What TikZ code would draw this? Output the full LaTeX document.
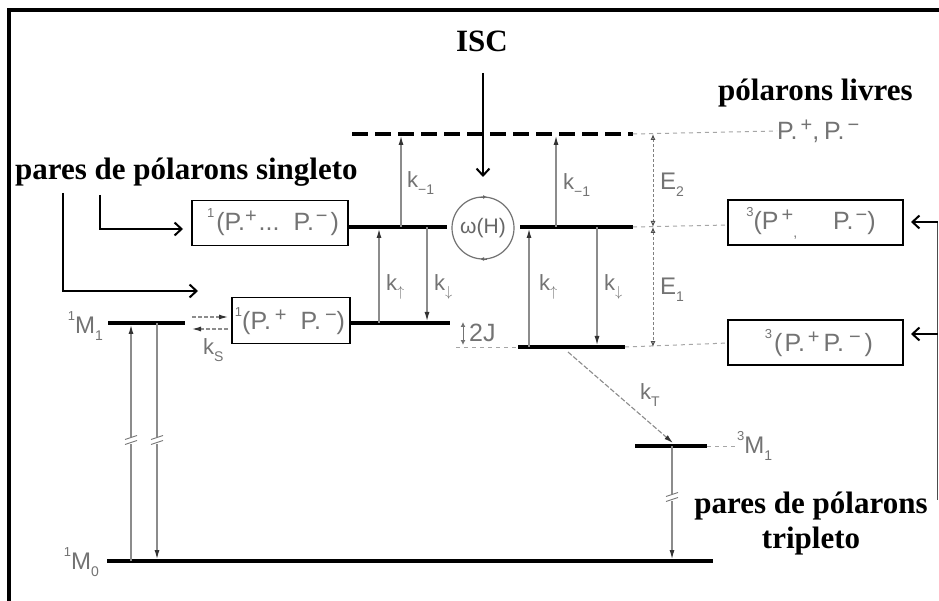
\documentclass[tikz,border=0pt]{standalone}
\usepackage{fontspec}
\setmainfont{Liberation Serif}
\newfontfamily\scanfont{Liberation Sans}
\usetikzlibrary{arrows.meta}
\newcommand\upc[1]{\raisebox{0.32em}{\fontsize{20}{20}\selectfont #1}}
\newcommand\upn[1]{\raisebox{0.55em}{\fontsize{13}{13}\selectfont #1}}
\newcommand\dnn[1]{\raisebox{-0.3em}{\fontsize{14}{14}\selectfont #1}}
\begin{document}
\begin{tikzpicture}[x=1pt,y=-1pt,
  lvl/.style={line width=4.5pt},
  bold/.style={font=\fontsize{31}{35}\selectfont\bfseries, inner sep=0pt},
  lab/.style={text=black!55, font=\scanfont\fontsize{22}{24}\selectfont, inner sep=0pt},
  boxtxt/.style={text=black!55, font=\scanfont\fontsize{25}{27}\selectfont},
  pairbox/.style={draw=black, line width=1.8pt, inner sep=0pt},
  annot/.style={draw=black, line width=2.3pt, -{Straight Barb[length=7pt,width=13pt,line width=2pt]}},
  thinarr/.style={draw=black!45, line width=1.1pt, -{Latex[length=9pt,width=5pt,color=black!80,fill=black!80]}},
  dblarr/.style={draw=black!50, line width=1pt, dash pattern=on 3pt off 2pt, {Latex[open,length=6pt,width=5pt,color=black!70]}-{Latex[open,length=6pt,width=5pt,color=black!70]}},
  dotline/.style={draw=black!35, line width=1pt, dash pattern=on 4pt off 4pt},
  brkmark/.pic={\fill[white] (-7,-3.5) rectangle (7,3.5);
                \draw[black!55,line width=0.9pt] (-6,-0.5) -- (6,-4.5) (-6,4.5) -- (6,0.5);}
]
\useasboundingbox (0,0) rectangle (939,601);
\fill[white] (0,0) rectangle (939,601);
% frame
\draw[line width=4pt] (9,601) -- (9,10) -- (939,10);

% ---------- bold annotations ----------
\node[bold, anchor=base] (isc) at (482,52) {ISC};
\node[bold, anchor=base west] (livres) at (718,101) {pólarons livres};
\node[bold, anchor=base west] (singleto) at (15,180) {pares de pólarons singleto};
\node[bold, anchor=base] (trip1) at (811,513) {pares de pólarons};
\node[bold, anchor=base] (trip2) at (811,548) {tripleto};

% ---------- energy levels ----------
\coordinate (fsL) at (352,134); \coordinate (fsR) at (633,134);
\draw[lvl, dash pattern=on 16pt off 7pt] (fsL) -- (fsR);
\coordinate (usL) at (349,227); \coordinate (usR) at (447,227);
\draw[lvl] (usL) -- (usR);
\coordinate (utL) at (520,227); \coordinate (utR) at (633,227);
\draw[lvl] (utL) -- (utR);
\coordinate (lsL) at (351,323); \coordinate (lsR) at (450,323);
\draw[lvl] (lsL) -- (lsR);
\coordinate (ltL) at (518,347); \coordinate (ltR) at (625,347);
\draw[lvl] (ltL) -- (ltR);
\coordinate (m1L) at (108,323); \coordinate (m1R) at (185,323);
\draw[lvl] (m1L) -- (m1R);
\coordinate (m0L) at (107,561); \coordinate (m0R) at (713,561);
\draw[lvl] (m0L) -- (m0R);
\coordinate (t1L) at (635,446); \coordinate (t1R) at (707,446);
\draw[lvl] (t1L) -- (t1R);

% ---------- boxes ----------
\node[pairbox, minimum width=156pt, minimum height=45pt] (B1) at (270,223) {};
\node[boxtxt] (B1t) at (273,222) {\upn{1}\kern2pt(P.\upc{+}\kern2pt...\kern14pt P.\kern2pt\upc{−}\kern3pt)};
\node[pairbox, minimum width=118pt, minimum height=46pt] (B2) at (291,320.5) {};
\node[boxtxt] (B2t) at (290,321) {\upn{1}(P.\kern4pt\upc{+}\kern14pt P.\kern4pt\upc{−})};
\node[pairbox, minimum width=175pt, minimum height=45pt] (B3) at (815.5,222.5) {};
\node[boxtxt] (B3t) at (811,223) {\upn{3}(P\kern3pt\upc{+}\dnn{,}\kern36pt P.\kern2pt\upc{−})};
\node[pairbox, minimum width=175pt, minimum height=45pt] (B4) at (815.5,342.5) {};
\node[boxtxt] (B4t) at (819,343) {\upn{3}\kern2pt(\kern2pt P.\kern3pt\upc{+}\kern4pt P.\kern5pt\upc{−}\kern4pt)};

% ---------- ISC / omega ----------
\node[draw=black!55, line width=1.2pt, circle, minimum size=62pt, inner sep=0pt,
      text=black!60, font=\scanfont\fontsize{21}{22}\selectfont] (omega) at (483,228) {ω(H)};
\coordinate (omt1) at (480,197); \coordinate (omt2) at (487,197);
\coordinate (omb1) at (487,259); \coordinate (omb2) at (480,259);
\draw[black!60, line width=0.8pt, -{Latex[length=4pt,width=4pt]}] (omt1) -- (omt2);
\draw[black!60, line width=0.8pt, -{Latex[length=4pt,width=4pt]}] (omb1) -- (omb2);
\coordinate (iscS) at (483,73); \coordinate (iscE) at (483,177);
\draw[annot] (iscS) -- (iscE);

% ---------- gray dotted guides ----------
\node[boxtxt, inner sep=0pt, anchor=west] (pfree) at (777,131) {P.\kern3pt\upc{+},\kern5pt P.\kern3pt\upc{−}};
\draw[dotline] (fsR) -- (pfree.west);
\coordinate (b3in) at (728,225); \coordinate (b4in) at (728,343);
\draw[dotline] (utR) -- (b3in);
\draw[dotline] (ltR) -- (b4in);
\coordinate (ltX) at (456,347);
\draw[dotline] (ltX) -- (ltL);
\node[lab, anchor=west, font=\scanfont\fontsize{24}{24}\selectfont] (t1lab) at (737,446) {\upn{3}M\dnn{1}};
\draw[dotline] (t1R) -- (t1lab.west);

% ---------- rate arrows ----------
\coordinate (a1b) at (401,227); \coordinate (a1t) at (401,136);
\draw[thinarr] (a1b) -- (a1t);
\coordinate (a2b) at (556,227); \coordinate (a2t) at (556,136);
\draw[thinarr] (a2b) -- (a2t);
\coordinate (a3b) at (379,323); \coordinate (a3t) at (379,229);
\draw[thinarr] (a3b) -- (a3t);
\coordinate (a4t) at (427,227); \coordinate (a4b) at (427,321);
\draw[thinarr] (a4t) -- (a4b);
\coordinate (a5b) at (529,347); \coordinate (a5t) at (529,229);
\draw[thinarr] (a5b) -- (a5t);
\coordinate (a6t) at (597,227); \coordinate (a6b) at (597,345);
\draw[thinarr] (a6t) -- (a6b);
\coordinate (kt1) at (568,352); \coordinate (kt2) at (673,443);
\draw[thinarr, dash pattern=on 5pt off 2pt] (kt1) -- (kt2);
\coordinate (t1d) at (672,446); \coordinate (m0t) at (672,559);
\draw[thinarr] (t1d) -- (m0t);
\coordinate (up0) at (131,561); \coordinate (up1) at (131,325);
\draw[thinarr] (up0) -- (up1);
\coordinate (dn1) at (157,323); \coordinate (dn0) at (157,559);
\draw[thinarr] (dn1) -- (dn0);
\pic at (131,440) {brkmark};
\pic at (157,440) {brkmark};
\pic at (672,497) {brkmark};
% E1, E2
\coordinate (e2t) at (653,134); \coordinate (e2b) at (653,227); \coordinate (e1b) at (653,347);
\draw[dblarr] (e2t) -- (e2b);
\draw[dblarr] (e2b) -- (e1b);
% ks
\coordinate (ks1) at (192,317); \coordinate (ks2) at (228,317);
\coordinate (ks3) at (228,329); \coordinate (ks4) at (192,329);
\draw[thinarr, dash pattern=on 4pt off 2pt] (ks1) -- (ks2);
\draw[thinarr, dash pattern=on 4pt off 2pt] (ks3) -- (ks4);
% 2J
\coordinate (j1) at (463,322); \coordinate (j2) at (463,345);
\draw[draw=black!55, line width=1pt, {Latex[length=5pt,width=5pt]}-{Latex[length=5pt,width=5pt]}] (j1) -- (j2);
\node[lab, anchor=west, font=\scanfont\fontsize{25}{25}\selectfont] (twoj) at (469,333) {2J};

% ---------- rate labels ----------
\node[lab, anchor=west] (lkm1a) at (407,183) {k\dnn{−1}};
\node[lab, anchor=west] (lkm1b) at (563,185) {k\dnn{−1}};
\node[lab, anchor=west] (lkua) at (386,287) {k\dnn{$\uparrow$}};
\node[lab, anchor=west] (lkda) at (434,287) {k\dnn{$\downarrow$}};
\node[lab, anchor=west] (lkub) at (539,287) {k\dnn{$\uparrow$}};
\node[lab, anchor=west] (lkdb) at (604,287) {k\dnn{$\downarrow$}};
\node[lab, anchor=west, font=\scanfont\fontsize{24}{24}\selectfont] (le2) at (660,185) {E\dnn{2}};
\node[lab, anchor=west, font=\scanfont\fontsize{24}{24}\selectfont] (le1) at (660,290) {E\dnn{1}};
\node[lab, anchor=west] (lks) at (203,350) {k\dnn{S}};
\node[lab, anchor=west] (lkt) at (640,395) {k\dnn{T}};
\node[lab, anchor=east, font=\scanfont\fontsize{24}{24}\selectfont] (lm1) at (103,326) {\upn{1}M\dnn{1}};
\node[lab, anchor=east, font=\scanfont\fontsize{24}{24}\selectfont] (lm0) at (99,562) {\upn{1}M\dnn{0}};

% ---------- annotation connectors ----------
\coordinate (c1s) at (100,195); \coordinate (c1e) at (183,229);
\draw[annot] (c1s) |- (c1e);
\coordinate (c2s) at (63,193); \coordinate (c2e) at (198,291);
\draw[annot] (c2s) |- (c2e);
\coordinate (tb1) at (937.5,222); \coordinate (tb2) at (937.5,334); \coordinate (tb3) at (937.5,500);
\draw[black!70, line width=1.5pt] (tb1) -- (tb3);
\coordinate (tb1e) at (911,222); \coordinate (tb2e) at (911,334);
\draw[annot, line width=2pt] (tb1) -- (tb1e);
\draw[annot, line width=2pt] (tb2) -- (tb2e);
\end{tikzpicture}
\end{document}
